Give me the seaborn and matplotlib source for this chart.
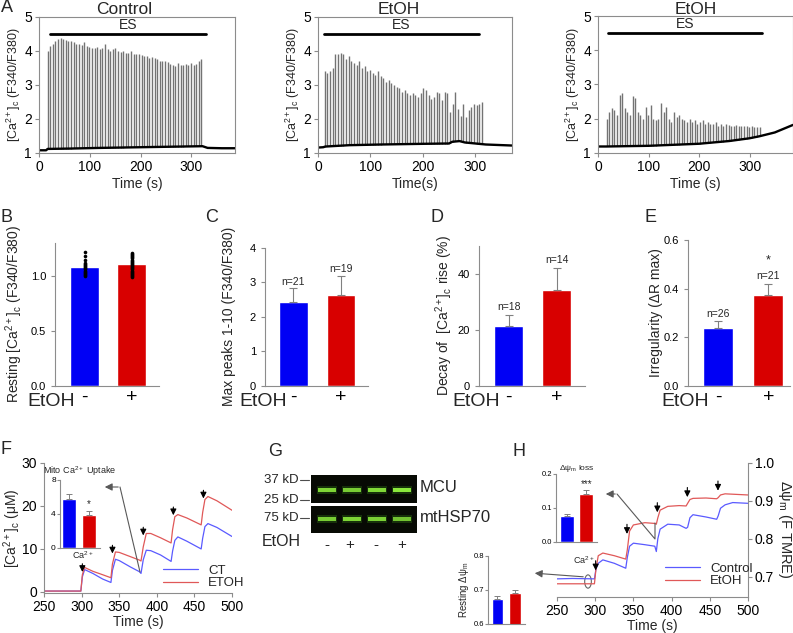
import numpy as np
import pandas as pd
import seaborn as sns
import matplotlib.pyplot as plt
from matplotlib.patches import Ellipse

# ---------------- data ----------------
# A: Ca2+ transients during electrical stimulation (peak heights, F340/F380)
ctrl_peaks = [4.0, 4.15, 4.2, 4.3, 4.35, 4.38, 4.35, 4.32, 4.3, 4.28, 4.25, 4.22, 4.2, 4.18,
              4.25, 4.15, 4.12, 4.1, 4.08, 4.12, 4.05, 4.1, 4.22, 4.05, 4.0, 4.05, 4.1, 4.0,
              3.98, 4.0, 3.95, 3.95, 4.0, 3.9, 3.92, 3.9, 3.88, 3.85, 3.85, 3.8, 3.82, 3.78,
              3.75, 3.72, 3.72, 3.7, 3.68, 3.62, 3.6, 3.55, 3.65, 3.58, 3.6, 3.62, 3.6, 3.65,
              3.58, 3.62, 3.7, 3.75]
etoh1_peaks = [3.4, 3.35, 3.4, 3.5, 3.9, 3.92, 3.95, 3.9, 3.75, 3.85, 3.7, 3.65, 3.6, 3.7,
               3.5, 3.55, 3.4, 3.45, 3.35, 3.3, 3.4, 3.25, 3.2, 3.1, 3.15, 3.05, 3.0, 2.95,
               2.9, 2.8, 2.85, 2.75, 2.7, 2.75, 2.7, 2.65, 2.75, 2.9, 2.85, 2.7, 2.6, 2.65,
               2.8, 2.75, 2.55, 2.8, 2.75, 2.2, 2.45, 2.8, 2.3, 2.1, 2.45, 2.05, 2.25, 2.35,
               2.45, 2.4, 2.45, 2.5]
etoh2_peaks = [2.0, 2.2, 2.3, 2.25, 2.1, 2.7, 2.75, 2.3, 2.2, 2.1, 2.65, 2.6, 2.2, 2.1, 2.0,
               2.35, 2.1, 2.4, 2.0, 1.95, 2.0, 2.45, 2.2, 2.35, 2.0, 1.9, 2.2, 2.05, 2.1, 2.0,
               1.95, 1.9, 2.0, 1.9, 1.95, 1.85, 1.9, 1.95, 1.85, 1.9, 1.85, 1.85, 1.9, 1.8,
               1.85, 1.8, 1.85, 1.82, 1.8, 1.8, 1.82, 1.78, 1.8, 1.78, 1.8, 1.76, 1.78, 1.76,
               1.75, 1.76]
ctrl_base_t = [0, 14, 17, 60, 120, 200, 280, 322, 332, 360, 386]
ctrl_base_v = [1.08, 1.08, 1.12, 1.13, 1.15, 1.17, 1.19, 1.2, 1.15, 1.14, 1.14]
etoh1_base_t = [0, 10, 14, 60, 120, 200, 250, 256, 270, 280, 300, 320, 370]
etoh1_base_v = [1.16, 1.17, 1.19, 1.23, 1.25, 1.27, 1.28, 1.33, 1.35, 1.31, 1.28, 1.25, 1.22]
etoh2_base_t = [0, 16, 100, 200, 260, 300, 320, 350, 386]
etoh2_base_v = [1.19, 1.19, 1.21, 1.27, 1.35, 1.43, 1.49, 1.6, 1.82]

# B-E: summary bars (control, EtOH)
groups = ['-', '+']
rest_mean = [1.08, 1.11]
rest_ctrl_cells = [1.0, 1.01, 1.02, 1.03, 1.04, 1.05, 1.06, 1.07, 1.08, 1.09, 1.1, 1.11,
                   1.12, 1.15, 1.18, 1.22]
rest_etoh_cells = [0.99, 1.0, 1.01, 1.02, 1.03, 1.04, 1.05, 1.06, 1.07, 1.08, 1.09, 1.1,
                   1.11, 1.12, 1.13, 1.14, 1.15, 1.16, 1.17, 1.18, 1.19, 1.2, 1.21]
maxpk_mean, maxpk_sem, maxpk_n = [2.42, 2.62], [0.4, 0.57], ['n=21', 'n=19']
decay_mean, decay_sem, decay_n = [21.5, 34.2], [3.9, 7.9], ['n=18', 'n=14']
irreg_mean, irreg_sem, irreg_n = [0.24, 0.375], [0.026, 0.046], ['n=26', 'n=21']

# F: cytosolic Ca2+ after Ca2+ additions
f_time = [250, 299, 301, 304, 315, 328, 339, 341, 345, 350, 365, 377, 379, 382, 386, 392,
          405, 419, 421, 424, 428, 440, 459, 461, 464, 468, 480, 500]
f_ct = [0.2, 0.2, 3.5, 5.2, 4.3, 3.0, 2.2, 5.0, 7.6, 7.3, 5.8, 4.7, 4.3, 7.5, 9.7, 9.6,
        8.6, 7.1, 9.5, 12.0, 12.8, 11.8, 10.0, 12.5, 15.2, 15.9, 15.0, 12.9]
f_etoh = [0.2, 0.2, 4.0, 5.7, 4.8, 4.0, 3.3, 6.5, 9.3, 9.2, 8.2, 7.4, 7.2, 10.5, 13.6, 13.6,
          12.6, 11.4, 14.5, 17.5, 18.0, 17.2, 15.6, 18.5, 21.5, 22.2, 21.2, 19.0]
f_add_t = [301, 341, 382, 422, 462]
f_add_tip = [4.0, 8.3, 12.5, 17.2, 21.1]
uptake_mean, uptake_sem = [5.8, 3.9], [0.6, 0.5]

# G: western blot band intensities (lanes: -, +, -, +)
lanes = ['-', '+', '-', '+']
mcu_band = [0.9, 0.85, 0.92, 1.0]
hsp_band = [0.85, 0.9, 0.88, 0.8]

# H: mitochondrial membrane potential (TMRE)
h_time = [250, 270, 299, 301, 304, 310, 325, 340, 342, 345, 350, 365, 378, 380, 382, 385,
          395, 410, 419, 421, 424, 428, 445, 459, 461, 464, 470, 480, 500]
h_ctrl = [0.694, 0.695, 0.694, 0.72, 0.735, 0.744, 0.735, 0.722, 0.75, 0.78, 0.788, 0.784,
          0.78, 0.766, 0.80, 0.825, 0.838, 0.836, 0.827, 0.83, 0.855, 0.863, 0.857, 0.851,
          0.86, 0.88, 0.889, 0.895, 0.893]
h_etoh = [0.681, 0.681, 0.681, 0.72, 0.755, 0.762, 0.755, 0.746, 0.77, 0.82, 0.836, 0.842,
          0.84, 0.838, 0.855, 0.875, 0.885, 0.887, 0.886, 0.893, 0.903, 0.906, 0.907, 0.905,
          0.908, 0.915, 0.918, 0.917, 0.915]
h_add_t = [300.6, 341.6, 381.3, 420.6, 460.7]
h_add_tip = [0.709, 0.805, 0.862, 0.902, 0.919]
loss_mean, loss_sem = [0.077, 0.14], [0.005, 0.012]
restpsi_mean, restpsi_sem = [0.675, 0.691], [0.007, 0.008]

# ---------------- style ----------------
sns.set_style('ticks')
plt.rcParams['font.family'] = ['Liberation Sans', 'DejaVu Sans']
plt.rcParams['mathtext.fontset'] = 'custom'
plt.rcParams['mathtext.rm'] = 'Liberation Sans'
plt.rcParams['mathtext.it'] = 'Liberation Sans:italic'
plt.rcParams['mathtext.bf'] = 'Liberation Sans:bold'
plt.rcParams['axes.edgecolor'] = '0.55'
plt.rcParams['xtick.color'] = '0.55'
plt.rcParams['ytick.color'] = '0.55'
plt.rcParams['xtick.labelcolor'] = 'black'
plt.rcParams['ytick.labelcolor'] = 'black'

BLUE, RED = '#0000f5', '#d80000'
CA_C = r'[Ca$^{2+}$]$_\mathrm{c}$'
W, H = 793, 633
fig = plt.figure(figsize=(W / 100, H / 100), dpi=100)


def axes_px(l, t, r, b):
    return fig.add_axes([l / W, 1 - b / H, (r - l) / W, (b - t) / H])


def ylabel_at(ax, text, x_px, box, fs, rot=90):
    # place a y label centred on a given pixel column
    l, t, r, b = box
    ax.set_ylabel(text, fontsize=fs, rotation=rot, ha='center', va='center')
    ax.yaxis.set_label_coords((x_px - l) / (r - l), 0.5)


# ---------------- A ----------------
def trace_panel(box, peaks, first, last, bt, bv, xmax, es, xlabel):
    ax = axes_px(*box)
    st = np.linspace(first, last, len(peaks))
    ax.vlines(st, np.interp(st, bt, bv), peaks, color='0.45', lw=1.0)
    sns.lineplot(x=bt, y=bv, ax=ax, color='black', lw=1.7)
    ax.plot(es, [4.5, 4.5], color='black', lw=2)
    ax.text(np.mean(es), 4.55, 'ES', ha='center', va='bottom', fontsize=10)
    ax.set_xlim(0, xmax)
    ax.set_ylim(1, 5)
    ax.set_xticks([0, 100, 200, 300])
    ax.set_yticks([1, 2, 3, 4, 5])
    ax.tick_params(labelsize=10, length=3, pad=2)
    ax.set_xlabel(xlabel, fontsize=10, labelpad=2)
    ylabel_at(ax, CA_C + ' (F340/F380)', box[0] - 25, box, 9)
    return ax


trace_panel((39, 17, 235, 153), ctrl_peaks, 17, 320, ctrl_base_t, ctrl_base_v,
            386, [21, 329], 'Time (s)')
trace_panel((318, 17, 512, 153), etoh1_peaks, 13, 313, etoh1_base_t, etoh1_base_v,
            370, [11, 307], 'Time(s)')
trace_panel((598, 16, 793, 153), etoh2_peaks, 17, 320, etoh2_base_t, etoh2_base_v,
            386, [19, 324], 'Time (s)')


# ---------------- B-E ----------------
def bar_panel(box, means, sems, ylim, yticks, ylabel, width, xlim, lab_x, err=True):
    ax = axes_px(*box)
    sns.barplot(x=groups, y=means, hue=groups, palette=[BLUE, RED], width=width,
                errorbar=None, legend=False, saturation=1, ax=ax)
    if err:
        ax.errorbar([0, 1], means, yerr=[[0, 0], sems], fmt='none', ecolor='0.5',
                    elinewidth=0.8, capsize=3, capthick=0.8)
    ax.set_ylim(*ylim)
    ax.set_xlim(*xlim)
    ax.set_yticks(yticks)
    sns.despine(ax=ax)
    ax.tick_params(axis='y', labelsize=8, length=3, width=0.8)
    ax.tick_params(axis='x', length=0, pad=2, labelsize=14)
    ylabel_at(ax, ylabel, lab_x, box, 10)
    return ax


boxB = (55, 243, 159, 386)
axB = bar_panel(boxB, rest_mean, None, (0, 1.3), [0, 0.5, 1.0],
                'Resting ' + CA_C + ' (F340/F380)', 0.62, (-0.63, 1.585), 14, err=False)
sns.stripplot(x=[0] * len(rest_ctrl_cells), y=rest_ctrl_cells, native_scale=True, jitter=0,
              color='black', size=2.6, ax=axB)
sns.stripplot(x=[1] * len(rest_etoh_cells), y=rest_etoh_cells, native_scale=True, jitter=0,
              color='black', size=2.6, ax=axB)
axB.set_xlim(-0.63, 1.585)
axB.set_xticks([0, 1])
axB.set_xticklabels(groups)
axB.set_yticks([0, 0.5, 1.0])
axB.set_yticklabels(['0.0', '0.5', '1.0'])
ylabel_at(axB, 'Resting ' + CA_C + ' (F340/F380)', 14, boxB, 10)

axC = bar_panel((265, 247.7, 368, 386), maxpk_mean, maxpk_sem, (0, 4), [0, 1, 2, 3, 4],
                'Max peaks 1-10 (F340/F380)', 0.6, (-0.6, 1.57), 229)
for i, s in enumerate(maxpk_n):
    axC.text(i, maxpk_mean[i] + maxpk_sem[i] + 0.05, s, ha='center', va='bottom', fontsize=7.5)

axD = bar_panel((479, 246, 585, 386), decay_mean, decay_sem, (0, 50), [0, 20, 40],
                'Decay of  ' + CA_C + ' rise (%)', 0.6, (-0.615, 1.59), 444)
for i, s in enumerate(decay_n):
    axD.text(i, decay_mean[i] + decay_sem[i] + 1.0, s, ha='center', va='bottom', fontsize=7.5)

axE = bar_panel((688, 240, 790, 386), irreg_mean, irreg_sem, (0, 0.6), [0, 0.2, 0.4, 0.6],
                'Irregularity (ΔR max)', 0.6, (-0.594, 1.43), 656)
axE.set_yticklabels(['0.0', '0.2', '0.4', '0.6'])
for i, s in enumerate(irreg_n):
    axE.text(i, irreg_mean[i] + irreg_sem[i] + 0.01, s, ha='center', va='bottom', fontsize=7.5)
axE.text(1, 0.49, '*', ha='center', va='bottom', fontsize=9)

# ---------------- F ----------------
boxF = (44, 463, 232, 593)
axF = axes_px(*boxF)
f_df = pd.DataFrame({'t': f_time + f_time, 'v': f_ct + f_etoh,
                     'group': ['CT'] * len(f_time) + ['ETOH'] * len(f_time)})
sns.lineplot(data=f_df, x='t', y='v', hue='group', palette=['#5a5aff', '#e05858'], lw=0.9,
             ax=axF)
for t, tip in zip(f_add_t, f_add_tip):
    axF.annotate('', xy=(t, tip), xytext=(t, tip + 3.2),
                 arrowprops=dict(arrowstyle='-|>', color='black', lw=0.8, mutation_scale=9))
axF.text(302, 8.6, 'Ca$^{2+}$', ha='center', va='center', fontsize=6.5)
axF.set_xlim(250, 500)
axF.set_ylim(-0.25, 30)
axF.set_xticks([250, 300, 350, 400, 450, 500])
axF.set_yticks([0, 10, 20, 30])
sns.despine(ax=axF)
axF.tick_params(labelsize=10, length=3, pad=2)
axF.set_xlabel('Time (s)', fontsize=10, labelpad=1)
ylabel_at(axF, CA_C + ' (μM)', 12, boxF, 10)
axF.legend(title=None, frameon=False, fontsize=9.5, handlelength=2.6, labelspacing=0.05,
           loc='upper left', bbox_to_anchor=((158 - 44) / 188, 1 - (559 - 463) / 130),
           borderaxespad=0)

axFi = axes_px(60, 480, 100, 548)
sns.barplot(x=groups, y=uptake_mean, hue=groups, palette=[BLUE, RED], width=0.7,
            errorbar=None, legend=False, saturation=1, ax=axFi)
axFi.errorbar([0, 1], uptake_mean, yerr=[[0, 0], uptake_sem], fmt='none', ecolor='0.5',
              elinewidth=0.7, capsize=2, capthick=0.7)
axFi.set_xlim(-0.45, 1.55)
axFi.set_ylim(0, 8)
axFi.set_yticks([0, 4, 8])
axFi.set_xticks([])
sns.despine(ax=axFi)
axFi.tick_params(axis='y', labelsize=6, length=2, pad=1)
axFi.set_ylabel('')
axFi.text(1, 4.6, '*', ha='center', va='bottom', fontsize=7)
axFi.set_title('Mito Ca$^{2+}$ Uptake', fontsize=6.5, pad=4)

# ---------------- G ----------------
for box, band, yc in [((311, 475, 417, 503), mcu_band, 0.46), ((311, 506, 417, 533), hsp_band, 0.52)]:
    axg = axes_px(*box)
    axg.set_facecolor('#070a04')
    x = np.arange(len(lanes))
    axg.bar(x, 0.28, bottom=yc - 0.14, width=0.8, color='#3c8c18', alpha=0.3, lw=0)
    for xi, a in zip(x, band):
        axg.bar(xi, 0.14, bottom=yc - 0.07, width=0.72, color='#8ae83c', alpha=a, lw=0)
    axg.set_xlim(-0.62, 3.6)
    axg.set_ylim(0, 1)
    axg.set_xticks([])
    axg.set_yticks([])
    for s in axg.spines.values():
        s.set_visible(False)

# ---------------- H ----------------
boxH = (557, 462.7, 748, 596.7)
axH = axes_px(*boxH)
h_df = pd.DataFrame({'t': h_time + h_time, 'v': h_ctrl + h_etoh,
                     'group': ['Control'] * len(h_time) + ['EtOH'] * len(h_time)})
sns.lineplot(data=h_df, x='t', y='v', hue='group', palette=['#5a5aff', '#e05858'], lw=0.9,
             ax=axH)
for t, tip in zip(h_add_t, h_add_tip):
    axH.annotate('', xy=(t, tip), xytext=(t, tip + 0.04),
                 arrowprops=dict(arrowstyle='-|>', color='black', lw=0.8, mutation_scale=9))
axH.text(299, 0.742, 'Ca$^{2+}$', ha='right', va='center', fontsize=6.5)
axH.add_patch(Ellipse((290.6, 0.687), 8.7, 0.035, fill=False, ec='0.4', lw=0.8))
axH.set_xlim(250, 500)
axH.set_ylim(0.647, 1.0)
axH.set_xticks([250, 300, 350, 400, 450, 500])
axH.set_yticks([0.7, 0.8, 0.9, 1.0])
axH.set_yticklabels(['0.7', '0.8', '0.9', '1.0'])
axH.spines['top'].set_visible(False)
axH.spines['left'].set_visible(False)
axH.yaxis.tick_right()
axH.yaxis.set_label_position('right')
axH.tick_params(labelsize=10, length=3, pad=2)
axH.set_xlabel('Time (s)', fontsize=10, labelpad=1)
ylabel_at(axH, 'Δψ$_\\mathrm{m}$ (F TMRE)', 785, boxH, 10.5, rot=270)
axH.legend(title=None, frameon=False, fontsize=9.5, handlelength=2.6, labelspacing=0.05,
           loc='upper left', bbox_to_anchor=((660 - 557) / 191, 1 - (557 - 462.7) / 134),
           borderaxespad=0)

axHi = axes_px(556, 474, 597, 542)
sns.barplot(x=groups, y=loss_mean, hue=groups, palette=[BLUE, RED], width=0.72,
            errorbar=None, legend=False, saturation=1, ax=axHi)
axHi.errorbar([0, 1], loss_mean, yerr=[[0, 0], loss_sem], fmt='none', ecolor='0.5',
              elinewidth=0.7, capsize=2, capthick=0.7)
axHi.set_xlim(-0.56, 1.54)
axHi.set_ylim(0, 0.2)
axHi.set_yticks([0, 0.1, 0.2])
axHi.set_yticklabels(['0.0', '0.1', '0.2'])
axHi.set_xticks([])
sns.despine(ax=axHi)
axHi.tick_params(axis='y', labelsize=5.5, length=2, pad=1)
axHi.set_ylabel('')
axHi.text(1, 0.155, '***', ha='center', va='bottom', fontsize=7)
axHi.set_title('Δψ$_\\mathrm{m}$ loss', fontsize=6, pad=3)

axR = axes_px(488, 556, 525, 624)
sns.barplot(x=groups, y=restpsi_mean, hue=groups, palette=[BLUE, RED], width=0.66,
            errorbar=None, legend=False, saturation=1, ax=axR)
axR.errorbar([0, 1], restpsi_mean, yerr=[[0, 0], restpsi_sem], fmt='none', ecolor='0.5',
             elinewidth=0.7, capsize=2, capthick=0.7)
axR.set_xlim(-0.54, 1.57)
axR.set_ylim(0.6, 0.8)
axR.set_yticks([0.6, 0.7, 0.8])
axR.set_yticklabels(['0.6', '0.7', '0.8'])
axR.set_xticks([])
sns.despine(ax=axR)
axR.tick_params(axis='y', labelsize=5.5, length=2, pad=1)
axR.set_ylabel('Resting Δψ$_\\mathrm{m}$', fontsize=7, labelpad=2)

# ---------------- overlay: letters, titles, labels, pointer arrows ----------------
ov = fig.add_axes([0, 0, 1, 1], zorder=20)
ov.set_xlim(0, W)
ov.set_ylim(H, 0)
ov.axis('off')

for title, x in [('Control', 124), ('EtOH', 399), ('EtOH', 696)]:
    ov.text(x, 9, title, fontsize=12.5, ha='center', va='center')

for letter, x, y in [('A', 1, 8), ('B', 1, 218), ('C', 205, 218), ('D', 430, 218),
                     ('E', 644, 218), ('F', 1, 450), ('G', 268, 452), ('H', 512, 452)]:
    ov.text(x, y, letter, fontsize=13, va='center', ha='left')

# "EtOH" row labels beside the - / + ticks
for xr in [75, 287, 500, 709]:
    ov.text(xr, 401, 'EtOH', fontsize=14, ha='right', va='center')

# blot labels
for lab, y in [('37 kD', 480), ('25 kD', 500), ('75 kD', 518)]:
    ov.text(299, y, lab, fontsize=9.5, ha='right', va='center')
    ov.plot([300, 309], [y, y], color='0.3', lw=0.8)
ov.text(420, 487, 'MCU', fontsize=12, ha='left', va='center')
ov.text(420, 518, 'mtHSP70', fontsize=12, ha='left', va='center')
ov.text(262, 542, 'EtOH', fontsize=11.5, ha='left', va='center')
for xc, s in zip([327, 350, 376, 402], lanes):
    ov.text(xc, 545, s, fontsize=11, ha='center', va='center')

# pointer arrows from traces to insets
arrow_kw = dict(arrowstyle='-|>', color='0.35', lw=0.8, mutation_scale=11)
ov.plot([140, 120], [572, 487], color='0.35', lw=0.8)
ov.annotate('', xy=(102, 487), xytext=(121, 487), arrowprops=arrow_kw)
ov.plot([655, 655, 617], [523, 539, 494], color='0.35', lw=0.8)
ov.annotate('', xy=(603, 494), xytext=(618, 494), arrowprops=arrow_kw)
ov.annotate('', xy=(532, 573), xytext=(586, 577), arrowprops=arrow_kw)

fig.savefig('out.png', dpi=100)
